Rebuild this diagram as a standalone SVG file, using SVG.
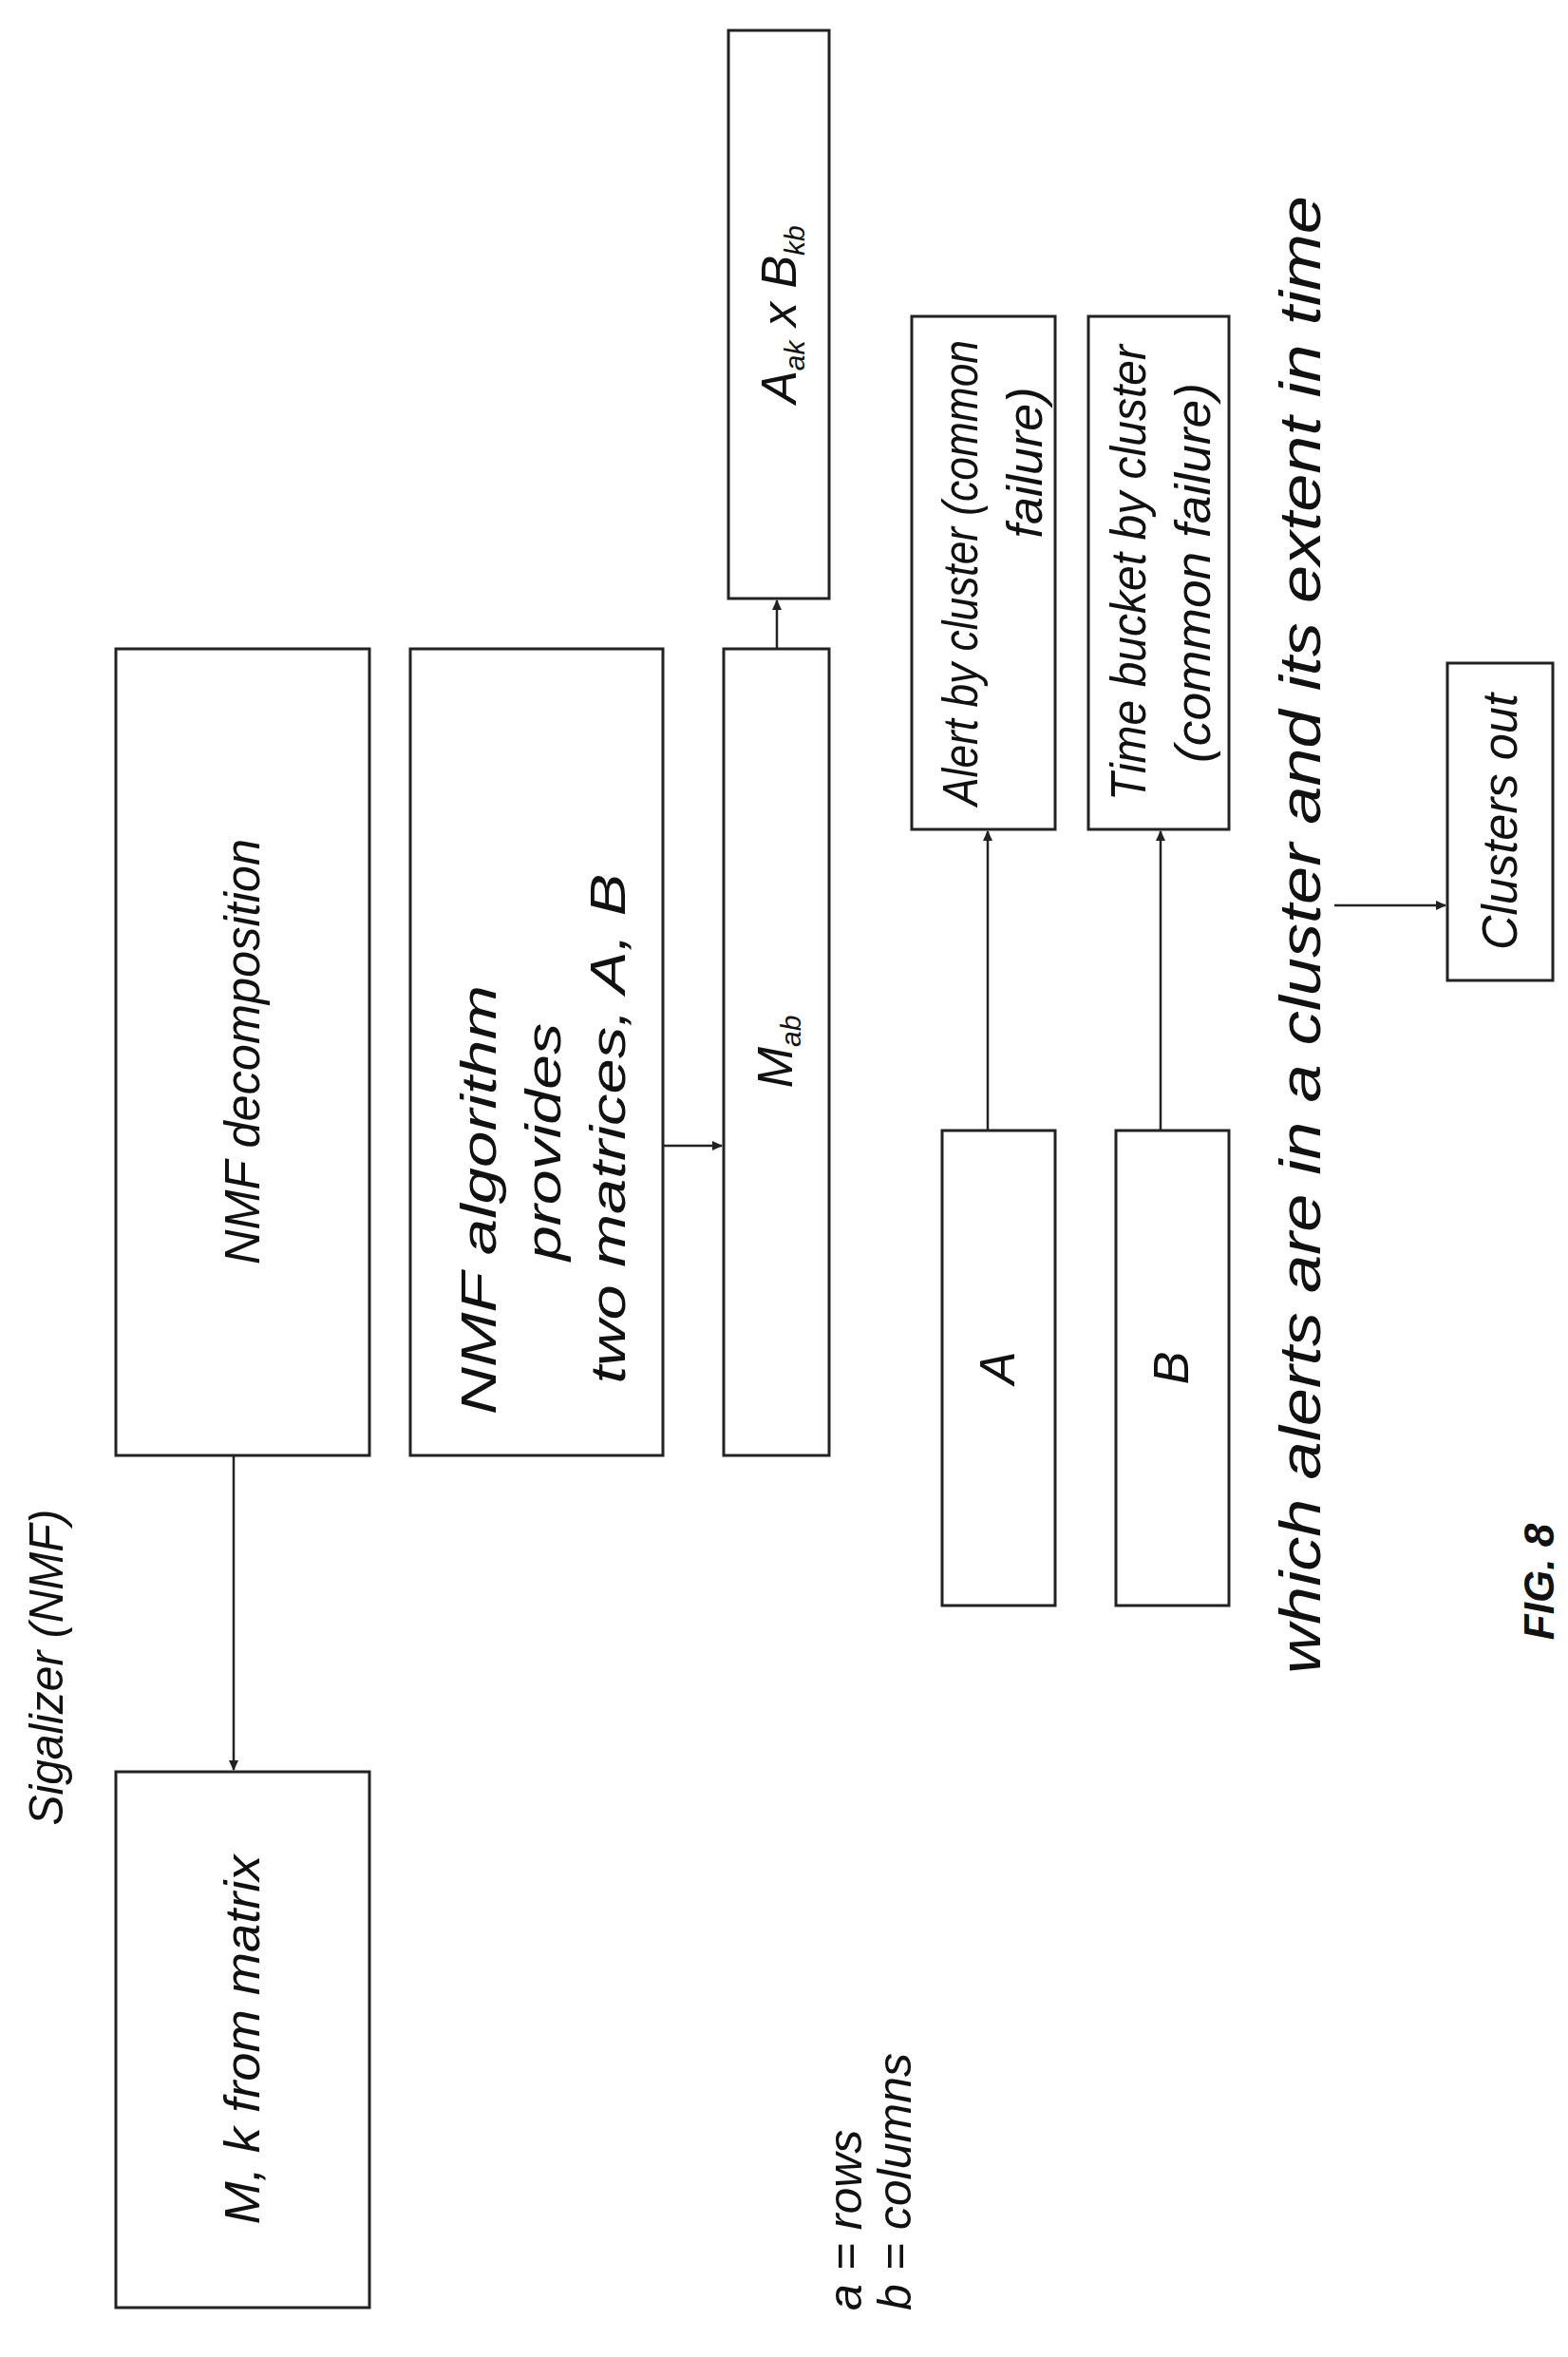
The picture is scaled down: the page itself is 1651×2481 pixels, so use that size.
<svg xmlns="http://www.w3.org/2000/svg" width="1651" height="2481" viewBox="0 0 1651 2481">
<style>
.b{fill:#fff;stroke:#222;stroke-width:3}
.t{font-family:"Liberation Sans",Arial,sans-serif;font-style:italic;font-size:52px;fill:#111;text-anchor:middle}
.c{stroke:#222;stroke-width:2.5;fill:none}
</style>
<defs><marker id="ar" markerWidth="12" markerHeight="12" refX="10" refY="6" orient="auto" markerUnits="userSpaceOnUse"><path d="M0,1 L11,6 L0,11 z" fill="#222"/></marker></defs>
<rect width="1651" height="2481" fill="#fff"/>
<g id="connectors">
<line class="c" x1="246" y1="1532" x2="246" y2="1863" marker-end="url(#ar)"/>
<line class="c" x1="698" y1="1206" x2="760" y2="1206" marker-end="url(#ar)"/>
<line class="c" x1="818" y1="683" x2="818" y2="632" marker-end="url(#ar)"/>
<line class="c" x1="1040" y1="1190" x2="1040" y2="875" marker-end="url(#ar)"/>
<line class="c" x1="1222" y1="1190" x2="1222" y2="875" marker-end="url(#ar)"/>
<line class="c" x1="1405" y1="953" x2="1522" y2="953" marker-end="url(#ar)"/>
</g>
<g id="nmf_decomp"><rect class="b" x="122" y="683" width="267" height="849"/><text class="t" textLength="448" lengthAdjust="spacingAndGlyphs" transform="translate(273,1107) rotate(-90)">NMF decomposition</text></g>
<g id="nmf_algo"><rect class="b" x="432" y="683" width="266" height="849"/><text class="t" transform="translate(571,1263) rotate(-90)"><tspan x="0" y="-49" textLength="452" lengthAdjust="spacingAndGlyphs">NMF algorithm</tspan></text><text class="t" transform="translate(571,1202) rotate(-90)"><tspan x="0" y="19" textLength="250" lengthAdjust="spacingAndGlyphs">provides</tspan></text><text class="t" transform="translate(571,1188) rotate(-90)"><tspan x="0" y="87" textLength="537" lengthAdjust="spacingAndGlyphs">two matrices, A, B</tspan></text></g>
<g id="mab"><rect class="b" x="762" y="683" width="111" height="849"/><text class="t" transform="translate(834,1107) rotate(-90)">M<tspan font-size="30" dy="9">ab</tspan></text></g>
<g id="akbk"><rect class="b" x="767" y="32" width="106" height="598"/><text class="t" transform="translate(838,331) rotate(-90)">A<tspan font-size="30" dy="9">ak</tspan><tspan dy="-9"> x B</tspan><tspan font-size="30" dy="9">kb</tspan></text></g>
<g id="alert"><rect class="b" x="960" y="333" width="151" height="540"/><text class="t" transform="translate(1029,603) rotate(-90)"><tspan x="0" y="0" textLength="490" lengthAdjust="spacingAndGlyphs">Alert by cluster (common</tspan></text><text class="t" transform="translate(1029,487) rotate(-90)"><tspan x="0" y="68">failure)</tspan></text></g>
<g id="timebucket"><rect class="b" x="1146" y="333" width="148" height="540"/><text class="t" transform="translate(1206,603) rotate(-90)"><tspan x="0" y="0" textLength="480" lengthAdjust="spacingAndGlyphs">Time bucket by cluster</tspan><tspan x="0" y="68" textLength="400" lengthAdjust="spacingAndGlyphs">(common failure)</tspan></text></g>
<g id="a"><rect class="b" x="992" y="1190" width="119" height="500"/><text class="t" transform="translate(1068,1440) rotate(-90)">A</text></g>
<g id="b"><rect class="b" x="1175" y="1190" width="119" height="500"/><text class="t" transform="translate(1251,1440) rotate(-90)">B</text></g>
<g id="clusters"><rect class="b" x="1524" y="698" width="111" height="334"/><text class="t" textLength="270" lengthAdjust="spacingAndGlyphs" transform="translate(1597,865) rotate(-90)">Clusters out</text></g>
<g id="mk"><rect class="b" x="122" y="1865" width="267" height="564"/><text class="t" textLength="389" lengthAdjust="spacingAndGlyphs" transform="translate(273,2147) rotate(-90)">M, k from matrix</text></g>
<text class="t" style="font-size:62px" textLength="1556" lengthAdjust="spacingAndGlyphs" transform="translate(1390,984) rotate(-90)">which alerts are in a cluster and its extent in time</text>
<text class="t" style="font-size:50px" textLength="333" lengthAdjust="spacingAndGlyphs" transform="translate(66,1755) rotate(-90)">Sigalizer (NMF)</text>
<text class="t" style="text-anchor:start;font-size:50px" transform="translate(907,2432) rotate(-90)"><tspan x="0" y="0">a = rows</tspan><tspan x="0" y="52">b = columns</tspan></text>
<text class="t" style="font-weight:bold;font-size:44px" transform="translate(1636,1665) rotate(-90)">FIG. 8</text>
</svg>
